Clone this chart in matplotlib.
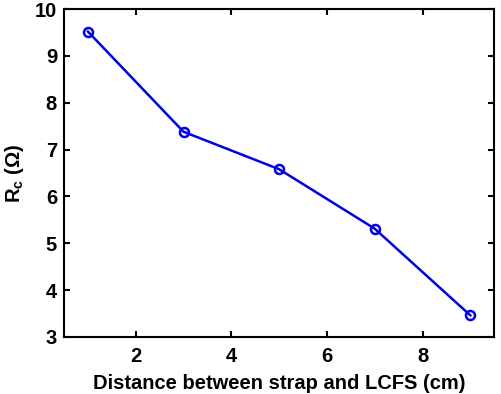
import numpy as np
import matplotlib
matplotlib.use("Agg")
from matplotlib import pyplot as plt

plt.rcParams['font.family'] = ['Liberation Sans', 'DejaVu Sans']
plt.rcParams['mathtext.default'] = 'regular'

distance = [1, 3, 5, 7, 9]  # cm
rc = [9.52, 7.38, 6.58, 5.31, 3.46]  # ohm

fig = plt.figure(figsize=(5.02, 3.94), dpi=100)
ax = fig.add_axes([0.1275, 0.145, 0.857, 0.832])

ax.plot(distance, rc, color='#0000e6', linewidth=1.8, marker='o', markersize=6.5,
        markerfacecolor='none', markeredgewidth=1.8)

ax.set_xlim(0.5, 9.5)
ax.set_ylim(3, 10)
ax.set_xticks([2, 4, 6, 8])
ax.set_yticks([3, 4, 5, 6, 7, 8, 9, 10])
ax.tick_params(direction='in', top=True, right=True, length=4, width=1.5,
               labelsize=14.5)
ax.tick_params(axis='x', pad=7)
ax.tick_params(axis='y', pad=5)
for lab in ax.get_xticklabels() + ax.get_yticklabels():
    lab.set_fontweight('bold')
for s in ax.spines.values():
    s.set_linewidth(1.5)

ax.set_xlabel("Distance between strap and LCFS (cm)", fontsize=14.5, fontweight='bold', labelpad=6)
ax.set_ylabel("R$_c$ (Ω)", fontsize=14.5, fontweight='bold', labelpad=6)

fig.savefig("out.png", dpi=100)
